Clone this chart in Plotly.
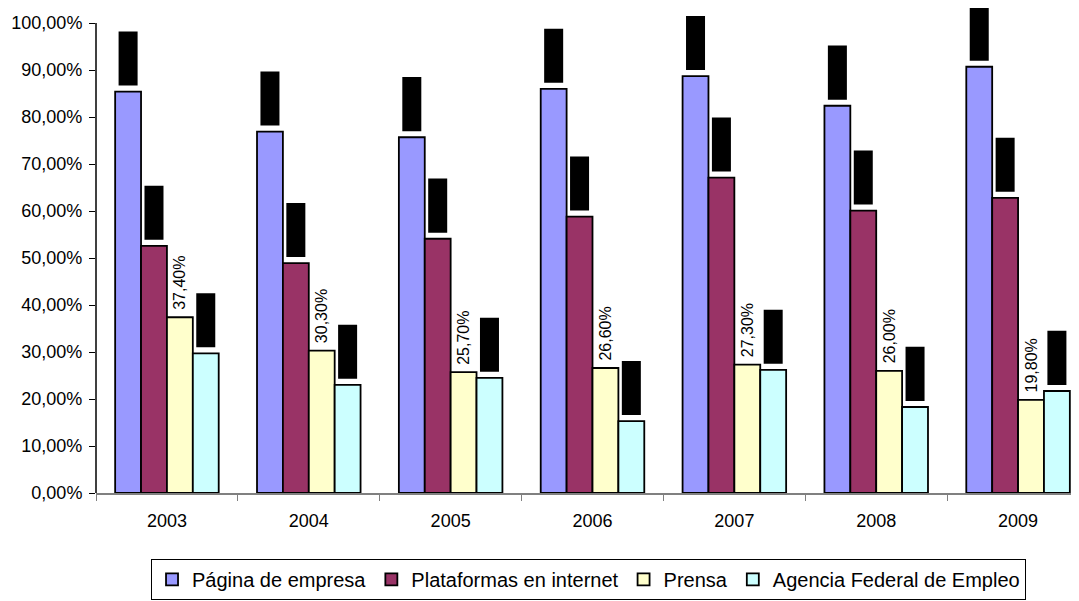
import plotly.graph_objects as go

years = ["2003", "2004", "2005", "2006", "2007", "2008", "2009"]
series_names = ["Página de empresa", "Plataformas en internet", "Prensa", "Agencia Federal de Empleo"]
pagina = [85.4, 76.9, 75.7, 86.0, 88.7, 82.4, 90.7]
plataformas = [52.6, 48.9, 54.1, 58.8, 67.1, 60.1, 62.8]
prensa = [37.4, 30.3, 25.7, 26.6, 27.3, 26.0, 19.8]
agencia = [29.7, 23.0, 24.5, 15.3, 26.2, 18.3, 21.7]
colors = ["#9999FF", "#993366", "#FFFFCC", "#CCFFFF"]
yticks = [0, 10, 20, 30, 40, 50, 60, 70, 80, 90, 100]
yticklabels = ["0,00%", "10,00%", "20,00%", "30,00%", "40,00%", "50,00%",
               "60,00%", "70,00%", "80,00%", "90,00%", "100,00%"]

all_values = [pagina, plataformas, prensa, agencia]
FONT = "Liberation Sans"


def fmt(v):
    return f"{v:.2f}".replace(".", ",") + "%"


# data-label box style (labels hidden behind black boxes in the original)
LABEL_GAP = 1.3      # in axis units above bar top
LABEL_LEN = 11.5     # box length in axis units
LABEL_W = 0.134      # box width in category units
Y_TOP = 103.2        # headroom so the topmost label boxes are not clipped
AXIS_MAX = 100

fig = go.Figure()
for gi, (name, vals, col) in enumerate(zip(series_names, all_values, colors)):
    is_prensa = gi == 2
    fig.add_trace(go.Bar(
        x=years, y=vals, name=name, offsetgroup=str(gi),
        marker=dict(color=col, line=dict(color="black", width=1.8)),
        text=["\u00a0" + fmt(v) for v in vals] if is_prensa else None,
        textposition="outside" if is_prensa else "none",
        textangle=-90, constraintext="none",
        textfont=dict(family=FONT, size=16, color="black"),
        cliponaxis=False, hoverinfo="x+y",
    ))
for gi, vals in enumerate(all_values):
    if gi == 2:
        continue
    fig.add_trace(go.Bar(
        x=years, y=[LABEL_LEN] * len(vals), base=[v + LABEL_GAP for v in vals],
        offsetgroup=str(gi), width=LABEL_W, showlegend=False,
        marker=dict(color="black", line=dict(width=0)),
        text=[fmt(v) for v in vals], textposition="inside", insidetextanchor="middle",
        textangle=-90, textfont=dict(family=FONT, size=16, color="black"),
        cliponaxis=False, hoverinfo="skip",
    ))

# page has an 8px body margin; compensate so the plot sits where the original does
W, H = 1081, 593
ml, mr, mt, mb = 88, 0, 0, 108

fig.add_shape(type="line", xref="paper", x0=0, x1=0, yref="y", y0=0, y1=AXIS_MAX,
              line=dict(color="black", width=1.5), layer="above")

fig.update_layout(
    width=W, height=H,
    margin=dict(l=ml, r=mr, t=mt, b=mb, autoexpand=False),
    paper_bgcolor="white", plot_bgcolor="white",
    barmode="group", bargap=0.27, bargroupgap=0,
    font=dict(family=FONT, size=16, color="black"),
    showlegend=True,
    legend=dict(
        orientation="h", x=0.496, xanchor="center", y=-0.1357, yanchor="top",
        bordercolor="black", borderwidth=1, font=dict(family=FONT, size=20, color="black"),
        itemwidth=30, tracegroupgap=0, traceorder="normal",
    ),
)
fig.update_xaxes(
    range=[-0.5, 6.5], showline=True, linecolor="#808080", linewidth=1.5,
    ticks="outside", tickson="boundaries", ticklen=6, tickcolor="#808080",
    showgrid=False, tickfont=dict(size=18), automargin=False, ticklabelstandoff=11,
)
fig.update_yaxes(
    range=[0, Y_TOP], tickmode="array", tickvals=yticks, ticktext=yticklabels,
    showline=False, ticks="outside", ticklen=6, tickcolor="black",
    showgrid=False, zeroline=False, tickfont=dict(size=18), automargin=False,
    ticklabelstandoff=3,
)
fig.write_html("out.html")
